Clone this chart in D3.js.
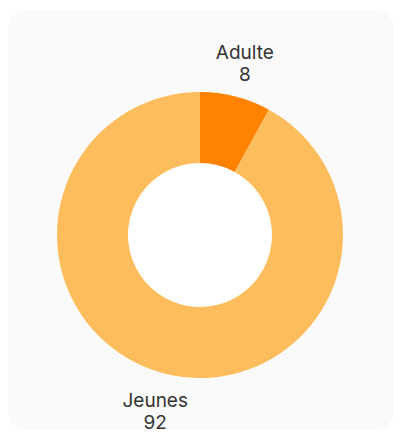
<!DOCTYPE html>
<html>
<head>
<meta charset="utf-8">
<script src="https://cdn.jsdelivr.net/npm/d3@7"></script>
<style>
  body { margin: 0; background: #ffffff; }
  svg text { font-family: Inter, "Open Sans", sans-serif; }
</style>
</head>
<body>
<div id="chart"></div>
<script>
"use strict";

const labels = ["Adulte", "Jeunes"];
const values = [8, 92];
const sliceColors = ["#ff8200", "#fdbd5c"];

const msm = {
    width: 401,
    height: 438,
    cx: 200,
    cy: 235,
    outer: 143,
    inner: 72,
    labelR: 180
}

let svg = d3.select("#chart").append("svg")
    .attr("width", msm.width)
    .attr("height", msm.height);

// card background, very faint
svg.append("rect")
    .attr("x", 8)
    .attr("y", 10)
    .attr("width", 385)
    .attr("height", 420)
    .attr("rx", 18)
    .attr("fill", "#fafafa");

let data = labels.map((l, i) => ({ label: l, value: values[i] }));

let pie = d3.pie()
    .sort(null)
    .value(d => d.value);

let arc = d3.arc()
    .innerRadius(msm.inner)
    .outerRadius(msm.outer);

let labelArc = d3.arc()
    .innerRadius(msm.labelR)
    .outerRadius(msm.labelR);

let color = d3.scaleOrdinal().domain(labels).range(sliceColors);

let g = svg.append("g")
    .attr("transform", "translate(" + msm.cx + "," + msm.cy + ")");

// white hole in the middle
g.append("circle")
    .attr("r", msm.inner)
    .attr("fill", "#ffffff");

let arcs = pie(data);

g.selectAll("path")
    .data(arcs)
    .enter()
    .append("path")
    .attr("d", arc)
    .attr("fill", d => color(d.data.label));

// labels: name and value on two lines
let lbl = g.selectAll("text.lbl")
    .data(arcs)
    .enter()
    .append("text")
    .attr("class", "lbl")
    .attr("text-anchor", "middle")
    .attr("fill", "#333333")
    .style("font-size", "19px")
    .attr("transform", d => "translate(" + labelArc.centroid(d) + ")");

lbl.append("tspan")
    .attr("x", 0)
    .attr("y", -2)
    .text(d => d.data.label);

lbl.append("tspan")
    .attr("x", 0)
    .attr("y", 20)
    .text(d => d.data.value);
</script>
</body>
</html>
